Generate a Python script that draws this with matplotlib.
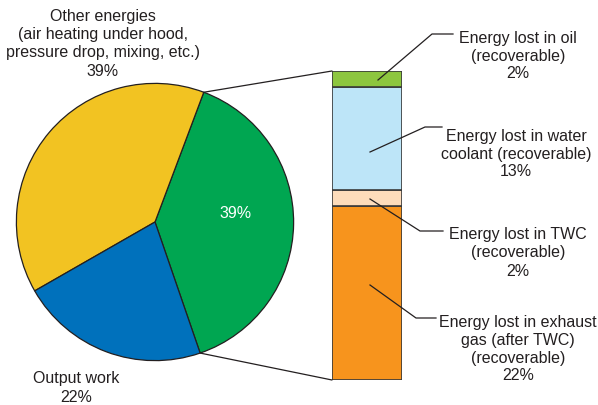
import numpy as np
import matplotlib.pyplot as plt
from matplotlib.patches import ConnectionPatch

plt.rcParams['font.family'] = ['Liberation Sans', 'DejaVu Sans']

# pie: recoverable part, other energies, output work
pie_labels = ['Recoverable', 'Other energies', 'Output work']
pie_values = [39, 39, 22]
pie_colors = ['#00a651', '#f2c322', '#0071bc']

# stacked bar, bottom to top
bar_labels = ['Energy lost in exhaust\ngas (after TWC)\n(recoverable)\n22%',
              'Energy lost in TWC\n(recoverable)\n2%',
              'Energy lost in water\ncoolant (recoverable)\n13%',
              'Energy lost in oil\n(recoverable)\n2%']
bar_values = [22, 2, 13, 2]
bar_colors = ['#f7941d', '#fddcbb', '#bde5f8', '#8dc63f']

W, H = 598, 405
fig = plt.figure(figsize=(W / 100, H / 100), dpi=100)

def px_axes(x0, y0, x1, y1):
    return fig.add_axes([x0 / W, 1 - y1 / H, (x1 - x0) / W, (y1 - y0) / H])

# pie
axp = px_axes(15, 82, 295, 362)
start = -71
wedges, _ = axp.pie(pie_values, colors=pie_colors, startangle=start, counterclock=True,
                    radius=1, wedgeprops=dict(edgecolor='#231f20', linewidth=0.9))
axp.set_xlim(-1.01, 1.01)
axp.set_ylim(-1.01, 1.01)
axp.axis('off')
axp.text(0.58, 0.06, '39%', color='white', fontsize=11.5, ha='center', va='center')

# bar
axb = px_axes(332, 71, 402, 380)
bottoms = np.concatenate([[0], np.cumsum(bar_values)[:-1]])
axb.bar(0, bar_values, bottom=bottoms, width=1, color=bar_colors,
        edgecolor='#3a3a3a', linewidth=1.2)
axb.set_xlim(-0.5, 0.5)
axb.set_ylim(0, sum(bar_values))
axb.axis('off')

# overlay in pixel coords for text and leader lines, on top
ax0 = fig.add_axes([0, 0, 1, 1])
ax0.set_xlim(0, W)
ax0.set_ylim(H, 0)
ax0.axis('off')
ax0.set_zorder(10)

# connector lines from pie to bar
a_top = np.deg2rad(start + 360 * pie_values[0] / 100)
a_bot = np.deg2rad(start)
for ang, yb in [(a_top, sum(bar_values)), (a_bot, 0)]:
    con = ConnectionPatch(xyA=(np.cos(ang), np.sin(ang)), coordsA=axp.transData,
                          xyB=(-0.5, yb), coordsB=axb.transData,
                          color='#231f20', linewidth=0.9)
    fig.add_artist(con)

txt = dict(fontsize=11.5, color='#231f20', ha='center', va='center', linespacing=1.25)

# leader lines: (point in bar, kink, end of tail), text center
leaders = [
    ([(370, 285), (416, 318), (436, 318)], (518, 349)),
    ([(370, 199), (420, 231), (443, 231)], (518, 253)),
    ([(370, 152), (425, 127), (442, 127)], (516, 154)),
    ([(378, 80), (432, 34), (453, 34)], (518, 56)),
]
for lab, (pts, tpos) in zip(bar_labels, leaders):
    xs, ys = zip(*pts)
    ax0.plot(xs, ys, color='#231f20', linewidth=0.9)
    ax0.text(tpos[0], tpos[1], lab, **txt)

ax0.text(103, 44, 'Other energies\n(air heating under hood,\npressure drop, mixing, etc.)\n39%', **txt)
ax0.text(76, 388, 'Output work\n22%', **txt)

fig.savefig('out.png', dpi=100)
